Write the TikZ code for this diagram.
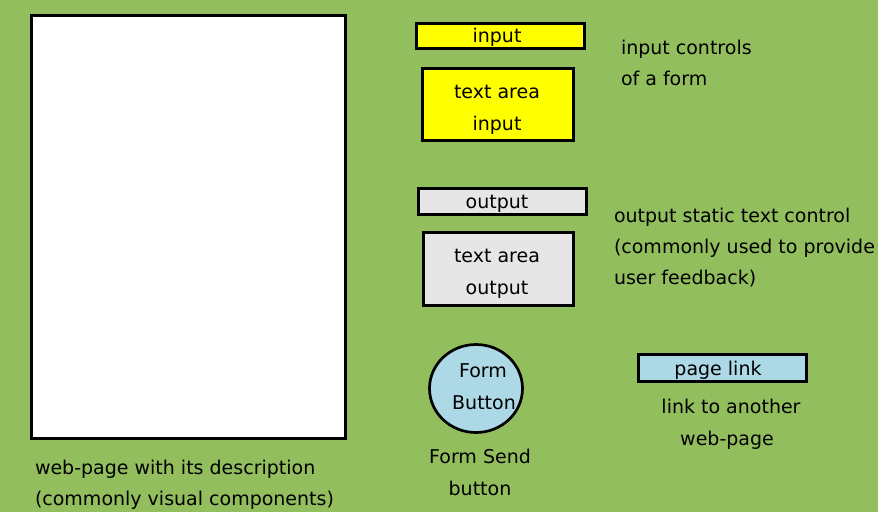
\documentclass[tikz,border=0pt]{standalone}
\usepackage{fontspec}
\usetikzlibrary{shapes.geometric}
\setmainfont{DejaVu Sans}
\definecolor{bggreen}{RGB}{147,190,94}
\definecolor{inyellow}{RGB}{255,255,0}
\definecolor{outgray}{RGB}{230,230,230}
\definecolor{btnblue}{RGB}{173,216,230}
\begin{document}
\begin{tikzpicture}[x=1pt,y=-1pt,
  every node/.style={font=\fontsize{19}{32}\selectfont, inner sep=0pt, outer sep=0pt},
  frame/.style={draw=black, line width=2.7pt},
  txt/.style={anchor=base},
  ltxt/.style={anchor=base west}]
\useasboundingbox (0,0) rectangle (878,512);
\clip (0,0) rectangle (878,512);
\fill[bggreen] (0,0) rectangle (878,512);

% web page
\node[frame, fill=white, minimum width=314pt, minimum height=423pt] (page) at (188.5,227) {};
\node[ltxt] (pagea) at (35,474) {web-page with its description};
\node[ltxt] (pageb) at (35,505) {(commonly visual components)};

% input controls
\node[frame, fill=inyellow, minimum width=168pt, minimum height=25pt] (inp) at (500.5,36) {};
\node[txt] (inpt) at (497,42) {input};
\node[frame, fill=inyellow, minimum width=151pt, minimum height=72pt] (tai) at (498,104.5) {};
\node[txt] (tait1) at (497,98) {text area};
\node[txt] (tait2) at (497,130) {input};
\node[ltxt] (inpd1) at (621,54) {input controls};
\node[ltxt] (inpd2) at (621,85) {of a form};

% output controls
\node[frame, fill=outgray, minimum width=168pt, minimum height=26pt] (outp) at (502.5,201.5) {};
\node[txt] (outpt) at (497,208) {output};
\node[frame, fill=outgray, minimum width=150pt, minimum height=73pt] (tao) at (498.5,269) {};
\node[txt] (taot1) at (497,262) {text area};
\node[txt] (taot2) at (497,294) {output};
\node[ltxt] (outd1) at (614,222) {output static text control};
\node[ltxt] (outd2) at (614,253) {(commonly used to provide};
\node[ltxt] (outd3) at (614,284) {user feedback)};

% form button
\node[frame, fill=btnblue, ellipse, minimum width=93pt, minimum height=88pt] (btn) at (476,388.5) {};
\node[txt] (btnt1) at (483,377) {Form};
\node[txt] (btnt2) at (484,409) {Button};
\node[txt] (btnd1) at (480,463) {Form Send};
\node[txt] (btnd2) at (480,495) {button};

% page link
\node[frame, fill=btnblue, minimum width=168pt, minimum height=27pt] (lnk) at (722.5,368) {};
\node[txt] (lnkt) at (718,375) {page link};
\node[txt] (lnkd1) at (731,413) {link to another};
\node[txt] (lnkd2) at (727,445) {web-page};
\end{tikzpicture}
\end{document}
